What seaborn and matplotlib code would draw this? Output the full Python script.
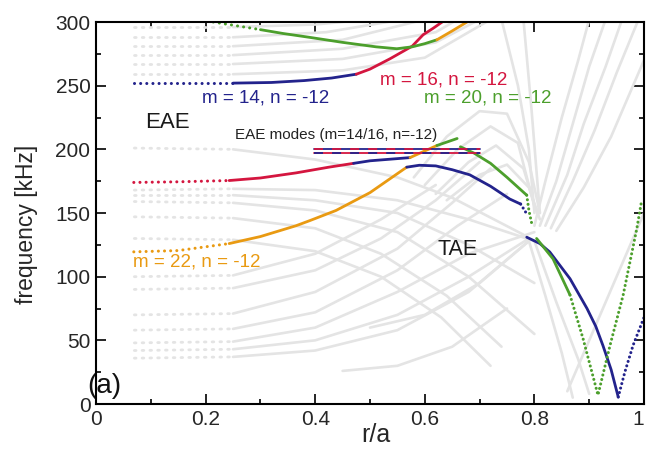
import matplotlib
matplotlib.use("Agg")
import matplotlib.pyplot as plt
import seaborn as sns
from matplotlib.ticker import MultipleLocator

# ---- colours -------------------------------------------------------------
NAVY = "#23238c"
RED = "#d4163f"
GREEN = "#4c9f2c"
ORANGE = "#e99a12"
GREY = "#e4e4e4"

# ---- shear Alfven continuum (grey), r/a and frequency [kHz] --------------
# branches that start near the axis (dotted there, solid further out)
continuum_upper = [
    ([0.07, 0.25, 0.40, 0.52], [296, 296, 298, 303]),
    ([0.07, 0.25, 0.42, 0.56], [288, 288, 292, 302]),
    ([0.07, 0.25, 0.45, 0.60], [281, 281, 286, 302]),
    ([0.07, 0.25, 0.45, 0.62, 0.66], [274, 274, 279, 292, 302]),
    ([0.07, 0.25, 0.45, 0.62, 0.70], [267, 267, 271, 284, 302]),
    ([0.07, 0.25, 0.45, 0.60, 0.72], [259, 259, 262, 272, 302]),
    ([0.07, 0.25, 0.40, 0.55, 0.65, 0.78], [201, 200, 192, 178, 162, 133]),
]
continuum_rising = [
    ([0.07, 0.25, 0.40, 0.55, 0.68, 0.79], [36, 37, 42, 58, 88, 128]),
    ([0.07, 0.25, 0.40, 0.55, 0.68, 0.79], [42, 43, 50, 70, 100, 130]),
    ([0.07, 0.25, 0.40, 0.55, 0.68, 0.80], [48, 49, 60, 88, 118, 135]),
    ([0.07, 0.25, 0.40, 0.55, 0.66, 0.75], [58, 59, 72, 105, 140, 165]),
    ([0.07, 0.25, 0.40, 0.55, 0.65, 0.72], [70, 71, 88, 122, 158, 185]),
    ([0.07, 0.25, 0.40, 0.52, 0.62, 0.70], [90, 91, 105, 130, 160, 190]),
    ([0.07, 0.25, 0.40, 0.52, 0.62], [100, 101, 118, 145, 172]),
]
continuum_falling = [
    ([0.07, 0.25, 0.40, 0.52, 0.64, 0.74], [147, 146, 138, 118, 85, 45]),
    ([0.07, 0.25, 0.40, 0.52, 0.63, 0.72], [130, 129, 120, 100, 68, 30]),
    ([0.07, 0.25, 0.40, 0.55, 0.68, 0.80], [159, 158, 152, 135, 100, 55]),
    ([0.07, 0.25, 0.40, 0.55, 0.68, 0.80], [164, 164, 160, 150, 125, 95]),
    ([0.07, 0.25, 0.40, 0.55, 0.68, 0.80], [168, 169, 168, 160, 145, 128]),
    ([0.45, 0.55, 0.65, 0.75], [26, 30, 45, 75]),
    ([0.50, 0.60, 0.70, 0.79], [60, 70, 95, 128]),
]
continuum_arches = [
    ([0.58, 0.64, 0.70, 0.75, 0.79, 0.81], [178, 210, 230, 228, 190, 150]),
    ([0.60, 0.66, 0.72, 0.77, 0.80], [172, 200, 218, 205, 155]),
    ([0.62, 0.68, 0.73, 0.78, 0.805], [165, 190, 203, 185, 150]),
    ([0.64, 0.70, 0.75, 0.79, 0.81], [160, 180, 188, 170, 145]),
]
continuum_edge = [
    ([0.80, 0.82, 0.85, 0.88, 0.90], [140, 175, 225, 270, 302]),
    ([0.81, 0.84, 0.87, 0.90, 0.93], [140, 175, 220, 265, 302]),
    ([0.82, 0.86, 0.89, 0.93, 0.96], [140, 180, 220, 265, 302]),
    ([0.83, 0.87, 0.91, 0.95, 0.99], [138, 175, 215, 260, 302]),
    ([0.84, 0.89, 0.94, 0.98, 1.00], [136, 170, 210, 250, 270]),
    ([0.74, 0.77, 0.79, 0.80], [302, 250, 200, 150]),
    ([0.78, 0.795, 0.81], [302, 230, 150]),
    ([0.79, 0.82, 0.85, 0.87], [128, 85, 40, 5]),
    ([0.80, 0.84, 0.88, 0.90], [128, 80, 35, 8]),
    ([0.86, 0.92, 0.97, 1.00], [10, 70, 120, 150]),
]

# ---- gap modes (coloured by dominant poloidal harmonic) ------------------
# each branch: r/a, f [kHz], and segments (r_start, r_end, colour, dotted?)
upper_r = [0.07, 0.25, 0.32, 0.38, 0.43, 0.475, 0.50, 0.536, 0.577, 0.597, 0.615, 0.635]
upper_f = [252, 252, 252.5, 254, 256, 259, 263, 271, 281, 290, 295, 301]
upper_seg = [(0.07, 0.25, NAVY, True), (0.25, 0.475, NAVY, False), (0.475, 0.635, RED, False)]

top_r = [0.214, 0.30, 0.341, 0.389, 0.45, 0.511, 0.549, 0.577, 0.60, 0.622, 0.65, 0.677]
top_f = [300, 294, 291, 288, 284, 280.5, 279, 280.5, 283, 286, 293, 300]
top_seg = [(0.214, 0.30, GREEN, True), (0.30, 0.622, GREEN, False), (0.622, 0.677, ORANGE, False)]

mid_r = [0.069, 0.15, 0.243, 0.30, 0.365, 0.425, 0.47, 0.50, 0.573, 0.622, 0.659]
mid_f = [174, 174.5, 175.5, 177.5, 181.5, 186, 189, 191, 193.5, 203, 208.5]
mid_seg = [(0.069, 0.243, RED, True), (0.243, 0.47, RED, False), (0.47, 0.573, NAVY, False),
           (0.573, 0.622, ORANGE, False), (0.622, 0.659, GREEN, False)]

low_r = [0.069, 0.15, 0.243, 0.30, 0.365, 0.39, 0.438, 0.50, 0.567, 0.59, 0.62, 0.65, 0.682,
         0.72, 0.755, 0.775, 0.785]
low_f = [119.5, 120.5, 126, 131.5, 140, 144, 152, 166, 186, 187.5, 187, 184, 180, 171, 161, 157, 150]
low_seg = [(0.069, 0.243, ORANGE, True), (0.243, 0.567, ORANGE, False),
           (0.567, 0.775, NAVY, False), (0.775, 0.785, NAVY, True)]

m20_r = [0.665, 0.69, 0.72, 0.75, 0.786, 0.79, 0.795]
m20_f = [202, 197, 189, 178, 164, 152, 142]
m20_seg = [(0.665, 0.786, GREEN, False), (0.786, 0.795, GREEN, True)]

tae14_r = [0.786, 0.81, 0.828, 0.865, 0.896, 0.912, 0.925, 0.94, 0.953, 0.965, 0.98, 1.0]
tae14_f = [131, 126, 119.4, 98.4, 75, 61, 46, 27, 5.5, 25, 46, 68]
tae14_seg = [(0.786, 0.953, NAVY, False), (0.953, 1.0, NAVY, True)]

tae20_r = [0.804, 0.834, 0.865, 0.889, 0.916, 0.938, 0.962, 0.987, 0.995]
tae20_f = [130, 114, 85.6, 51, 7, 46, 85.6, 138, 158]
tae20_seg = [(0.804, 0.865, GREEN, False), (0.865, 0.995, GREEN, True)]

# marker lines for the EAE mode frequencies
eae_line_r = [0.398, 0.70]
eae_line_f = [200.5, 197.3]

# ---- figure --------------------------------------------------------------
sns.set_style("ticks")
plt.rcParams["font.family"] = ["Liberation Sans", "DejaVu Sans"]

fig = plt.figure(figsize=(6.46, 4.49), dpi=100)
ax = fig.add_axes([0.1486, 0.1002, 0.8483, 0.8508])

DOT = (0, (0.01, 2.0))
DOT_DENSE = (0, (0.01, 1.5))


def draw(r, f, color, style, lw, zorder):
    sns.lineplot(x=r, y=f, ax=ax, color=color, lw=lw, linestyle=style, sort=False,
                 estimator=None, legend=False, dash_capstyle="round",
                 solid_capstyle="round", zorder=zorder)


for group in (continuum_upper, continuum_rising, continuum_falling,
              continuum_arches, continuum_edge):
    for r, f in group:
        if r[0] < 0.1:
            draw(r[:2], f[:2], GREY, (0, (0.6, 2.2)), 2.0, 1)
            draw(r[1:], f[1:], GREY, "-", 1.9, 1)
        else:
            draw(r, f, GREY, "-", 1.9, 1)

for r, f, segs in ((upper_r, upper_f, upper_seg), (top_r, top_f, top_seg),
                   (mid_r, mid_f, mid_seg), (low_r, low_f, low_seg),
                   (m20_r, m20_f, m20_seg), (tae14_r, tae14_f, tae14_seg),
                   (tae20_r, tae20_f, tae20_seg)):
    for lo, hi, color, dotted in segs:
        idx = [i for i, x in enumerate(r) if lo - 1e-9 <= x <= hi + 1e-9]
        style = "-"
        if dotted:
            style = DOT_DENSE if lo > 0.6 else DOT
        draw([r[i] for i in idx], [f[i] for i in idx], color, style,
             2.2 if dotted else 2.0, 3)

# double marker lines
ax.plot(eae_line_r, [eae_line_f[0]] * 2, color=NAVY, lw=1.3, zorder=4)
ax.plot(eae_line_r, [eae_line_f[0]] * 2, color=RED, lw=1.3, dashes=(5, 5), zorder=4)
ax.plot(eae_line_r, [eae_line_f[1]] * 2, color=RED, lw=1.3, zorder=4)
ax.plot(eae_line_r, [eae_line_f[1]] * 2, color=NAVY, lw=1.3, dashes=(5, 5), zorder=4)

# ---- annotations ---------------------------------------------------------
txt = dict(ha="center", va="center", zorder=5)
ax.text(0.13, 221, "EAE", fontsize=16, color="#1a1a1a", **txt)
ax.text(0.66, 121, "TAE", fontsize=15.5, color="#1a1a1a", **txt)
ax.text(0.438, 211, "EAE modes (m=14/16, n=-12)", fontsize=11, color="#222222", **txt)
ax.text(0.31, 240, "m = 14, n = -12", fontsize=13.5, color=NAVY, **txt)
ax.text(0.635, 254.5, "m = 16, n = -12", fontsize=13.5, color=RED, **txt)
ax.text(0.714, 240, "m = 20, n = -12", fontsize=13.5, color=GREEN, **txt)
ax.text(0.184, 111.5, "m = 22, n = -12", fontsize=13.5, color=ORANGE, **txt)
ax.text(-0.016, 14, "(a)", fontsize=20, ha="left", va="center", color="#111111", zorder=5)

# ---- axes ----------------------------------------------------------------
ax.set_xlim(0, 1)
ax.set_ylim(0, 300)
ax.xaxis.set_minor_locator(MultipleLocator(0.1))
ax.yaxis.set_major_locator(MultipleLocator(50))
ax.yaxis.set_minor_locator(MultipleLocator(25))
ax.set_xticks([0, 0.2, 0.4, 0.6, 0.8, 1.0])
ax.set_xticklabels(["0", "0.2", "0.4", "0.6", "0.8", "1"])
ax.get_xticklabels()[-1].set_horizontalalignment("right")
ax.tick_params(which="both", direction="in", top=True, right=True, width=1.2,
               color="black")
ax.tick_params(which="major", length=7, labelsize=15, pad=4)
ax.tick_params(which="minor", length=3.5)
for s in ax.spines.values():
    s.set_linewidth(1.5)
    s.set_color("black")
    s.set_zorder(6)

ax.set_xlabel("r/a", fontsize=18)
ax.set_ylabel("frequency [kHz]", fontsize=16.5)
ax.xaxis.set_label_coords(0.51, -0.05)
ax.yaxis.set_label_coords(-0.105, 0.47)

fig.savefig("out.png", dpi=100, facecolor="white")
